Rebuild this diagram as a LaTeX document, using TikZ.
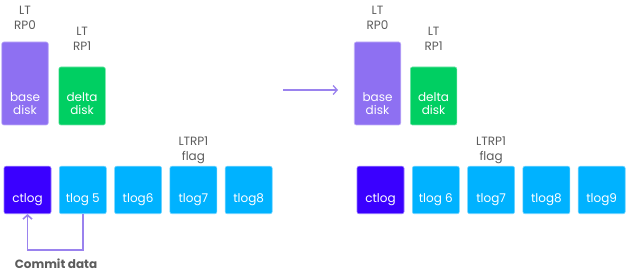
\documentclass[tikz,border=0pt]{standalone}
\usepackage{fontspec}
\setmainfont{Poppins}
\usetikzlibrary{positioning,arrows.meta}
\definecolor{basePurple}{HTML}{8E70F2}
\definecolor{deltaGreen}{HTML}{00CF62}
\definecolor{ctlogBlue}{HTML}{3A00FF}
\definecolor{tlogBlue}{HTML}{00B2FF}
\definecolor{arrowPurple}{HTML}{9A82EE}
\definecolor{labelGray}{HTML}{5C5C5C}

\begin{document}
\begin{tikzpicture}[x=1pt, y=-1pt, node distance=7.7pt,
    every node/.style={font=\fontsize{12}{15}\selectfont, align=center},
    disk/.style={draw=#1!55!white, fill=#1, rounded corners=2pt, line width=0.6pt, minimum width=46.5pt, inner sep=0pt},
    logbox/.style={draw=#1!55!white, fill=#1, rounded corners=2pt, line width=0.6pt, minimum width=47pt, minimum height=47.5pt,
        inner sep=0pt, text=white, text height=26pt, text depth=0pt},
    disktext/.style={text=white, inner sep=0pt, font=\fontsize{12}{13.5}\selectfont},
    toplabel/.style={text=labelGray, inner sep=0pt},
    flow/.style={draw=arrowPurple, line width=1.6pt, -{Straight Barb[length=4pt, width=9pt]}}]
    \useasboundingbox (0,0) rectangle (627,280);

    % before: restore points and logs
    \node[disk=basePurple, minimum height=83pt] (baseL) at (25,83.5) {};
    \node[disk=deltaGreen, minimum height=58pt, right=10pt of baseL.south east, anchor=south west] (deltaL) {};
    \node[disktext, above=10pt of baseL.south] (baseLtxt) {base\\disk};
    \node[disktext, above=10pt of deltaL.south] (deltaLtxt) {delta\\disk};
    \node[toplabel, above=11.5pt of baseL.north] (rp0L) {LT\\RP0};
    \node[toplabel, above=16pt of deltaL.north] (rp1L) {LT\\RP1};

    \node[logbox=ctlogBlue] (ctlogL) at (27.5,190) {ctlog};
    \node[logbox=tlogBlue, right=of ctlogL] (tlog5L) {tlog 5};
    \node[logbox=tlogBlue, right=of tlog5L] (tlog6L) {tlog6};
    \node[logbox=tlogBlue, right=of tlog6L] (tlog7L) {tlog7};
    \node[logbox=tlogBlue, right=of tlog7L] (tlog8L) {tlog8};
    \node[toplabel, above=2pt of tlog7L] (flagL) {LTRP1\\flag};

    \draw[flow] (tlog5L.south) -- ++(0,36) -| (ctlogL.south);
    \node[text=labelGray, font=\fontsize{12}{13}\selectfont\bfseries] (commit) at (56,264) {Commit data};

    % transition
    \coordinate (arrowStart) at (283,90);
    \coordinate (arrowEnd) at (338,90);
    \draw[flow, line width=1.3pt] (arrowStart) -- (arrowEnd);

    % after: logs shifted by one
    \node[disk=basePurple, minimum height=83pt] (baseR) at (377.5,83.5) {};
    \node[disk=deltaGreen, minimum height=58pt, right=9pt of baseR.south east, anchor=south west] (deltaR) {};
    \node[disktext, above=10pt of baseR.south] (baseRtxt) {base\\disk};
    \node[disktext, above=10pt of deltaR.south] (deltaRtxt) {delta\\disk};
    \node[toplabel, above=11.5pt of baseR.north] (rp0R) {LT\\RP0};
    \node[toplabel, above=16pt of deltaR.north] (rp1R) {LT\\RP1};

    \node[logbox=ctlogBlue] (ctlogR) at (380.5,190) {ctlog};
    \node[logbox=tlogBlue, right=of ctlogR] (tlog6R) {tlog 6};
    \node[logbox=tlogBlue, right=of tlog6R] (tlog7R) {tlog7};
    \node[logbox=tlogBlue, right=of tlog7R] (tlog8R) {tlog8};
    \node[logbox=tlogBlue, right=of tlog8R] (tlog9R) {tlog9};
    \node[toplabel, above=2pt of tlog7R] (flagR) {LTRP1\\flag};
\end{tikzpicture}
\end{document}
